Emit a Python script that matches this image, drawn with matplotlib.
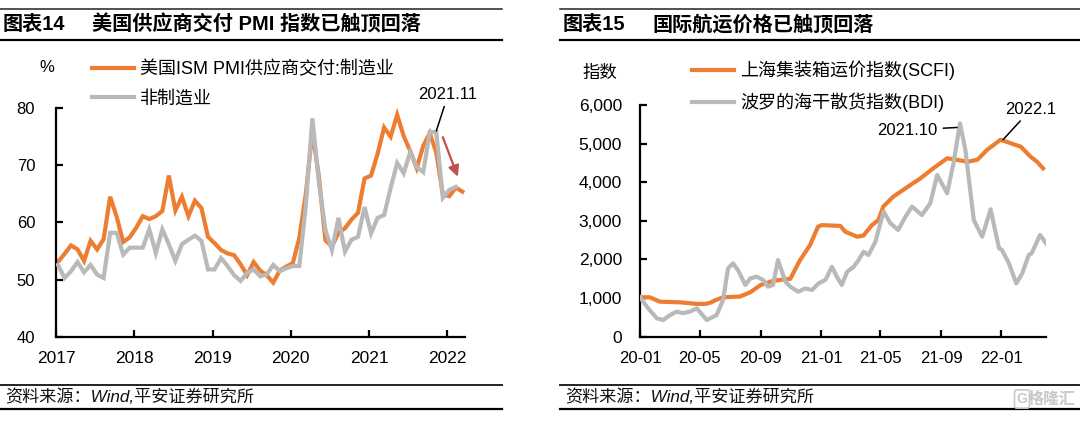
import matplotlib
matplotlib.use('Agg')
import matplotlib.pyplot as plt
import matplotlib.dates as mdates
from matplotlib.lines import Line2D
from matplotlib.ticker import FuncFormatter, FixedLocator, MultipleLocator
import numpy as np
import datetime as dt

plt.rcParams['font.family'] = ['Liberation Sans', 'Noto Sans CJK SC']
plt.rcParams['axes.unicode_minus'] = False

W, H = 1080, 423
ORANGE = '#ED7D31'
GRAY = '#B9B9B9'

# ---------------- left chart data (monthly, 2017-01 .. 2022-03) ----------------
year_labels = ['2017', '2018', '2019', '2020', '2021', '2022']
ism_mfg = [53.1, 54.5, 56.0, 55.3, 53.3, 56.8, 55.3, 57.1, 64.5, 61.0, 56.6, 57.4,
           59.1, 61.1, 60.6, 61.1, 62.0, 68.2, 62.1, 64.5, 61.1, 63.8, 62.5, 57.5,
           56.4, 55.2, 54.6, 54.3, 52.7, 50.8, 53.1, 51.6, 50.8, 49.5, 51.6, 52.3,
           52.9, 57.3, 65.0, 76.0, 68.0, 56.9, 55.8, 58.2, 59.0, 60.5, 61.7, 67.7,
           68.2, 72.0, 76.6, 75.0, 78.8, 75.1, 72.5, 69.5, 73.4, 75.6, 72.2, 64.9,
           64.6, 66.1, 65.4]
ism_nonmfg = [52.6, 50.3, 51.5, 53.1, 51.3, 52.6, 50.9, 50.3, 58.2, 58.2, 54.4, 55.6,
              55.6, 55.6, 58.8, 54.7, 58.8, 56.2, 53.3, 56.2, 57.0, 57.7, 56.8, 51.8,
              51.8, 53.8, 52.4, 50.8, 49.8, 51.2, 51.8, 50.6, 50.9, 52.6, 51.5, 52.0,
              52.4, 52.4, 63.0, 78.2, 67.0, 58.7, 55.2, 60.8, 54.9, 57.0, 57.5, 62.7,
              58.1, 60.8, 61.3, 66.0, 70.4, 68.6, 72.3, 69.7, 68.8, 75.8, 75.8, 64.3,
              65.7, 66.2]

# ---------------- right chart data ----------------
scfi_dates = ['2020-01-01', '2020-01-21', '2020-02-10', '2020-03-22', '2020-04-25', '2020-05-12',
              '2020-05-22', '2020-06-04', '2020-06-17', '2020-07-21', '2020-08-11', '2020-09-01',
              '2020-09-27', '2020-10-31', '2020-11-10', '2020-11-20', '2020-12-10', '2020-12-26',
              '2021-01-03', '2021-01-20', '2021-02-09', '2021-02-19', '2021-03-15', '2021-03-28',
              '2021-04-14', '2021-04-27', '2021-05-07', '2021-05-27', '2021-06-11', '2021-07-01',
              '2021-07-21', '2021-08-16', '2021-09-13', '2021-10-03', '2021-10-24', '2021-11-13',
              '2021-12-03', '2021-12-30', '2022-01-13', '2022-02-09', '2022-03-01', '2022-03-14',
              '2022-03-26']
scfi_vals = [1020, 1020, 907, 890, 850, 850, 880, 960, 1020, 1040, 1150, 1340, 1450, 1500,
             1750, 1990, 2375, 2850, 2890, 2880, 2870, 2720, 2590, 2620, 2890, 3020, 3370,
             3625, 3755, 3930, 4100, 4360, 4620, 4580, 4530, 4580, 4840, 5100, 5040, 4920,
             4660, 4530, 4360]
bdi_dates = ['2020-01-01', '2020-01-17', '2020-02-04', '2020-02-17', '2020-03-02', '2020-03-15',
             '2020-03-28', '2020-04-11', '2020-04-25', '2020-05-15', '2020-06-04', '2020-06-17',
             '2020-06-27', '2020-07-07', '2020-07-17', '2020-08-01', '2020-08-11', '2020-08-24',
             '2020-09-06', '2020-09-16', '2020-09-26', '2020-10-06', '2020-10-21', '2020-10-31',
             '2020-11-16', '2020-11-30', '2020-12-14', '2020-12-27', '2021-01-10', '2021-01-23',
             '2021-02-02', '2021-02-12', '2021-02-23', '2021-03-08', '2021-03-18', '2021-03-28',
             '2021-04-07', '2021-04-21', '2021-05-01', '2021-05-08', '2021-05-21', '2021-06-06',
             '2021-06-21', '2021-07-04', '2021-07-24', '2021-08-10', '2021-08-24', '2021-09-13',
             '2021-09-26', '2021-10-09', '2021-10-20', '2021-11-06', '2021-11-23', '2021-12-10',
             '2021-12-27', '2022-01-02', '2022-01-16', '2022-01-31', '2022-02-12', '2022-02-25',
             '2022-03-03', '2022-03-20', '2022-04-01']
bdi_vals = [1020, 743, 476, 432, 562, 648, 611, 650, 735, 432, 562, 950, 1770, 1900, 1727,
            1340, 1510, 1555, 1470, 1295, 1340, 1985, 1425, 1295, 1165, 1250, 1210, 1380,
            1470, 1810, 1555, 1340, 1683, 1810, 1985, 2200, 2115, 2460, 2940, 3240, 2940,
            2765, 3110, 3370, 3150, 3455, 4190, 3715, 4490, 5525, 4835, 3020, 2590, 3300,
            2290, 2245, 1900, 1380, 1640, 2115, 2160, 2635, 2420]
right_ticks = ['2020-01-01', '2020-05-01', '2020-09-01', '2021-01-01',
               '2021-05-01', '2021-09-01', '2022-01-01']


def d(s):
    return dt.datetime.strptime(s, '%Y-%m-%d')


def fx(px):
    return px / W


def fy(py):
    return 1 - py / H


fig = plt.figure(figsize=(W / 100, H / 100), dpi=100)
fig.patch.set_facecolor('white')

# ---------------- header / footer rules and titles ----------------
for x0, x1 in [(0, 502), (560, 1080)]:
    fig.add_artist(Line2D([fx(x0), fx(x1)], [fy(9), fy(9)], color='#222222', lw=1.1))
    fig.add_artist(Line2D([fx(x0), fx(x1)], [fy(40), fy(40)], color='black', lw=1.6))
    fig.add_artist(Line2D([fx(x0), fx(x1)], [fy(385), fy(385)], color='#222222', lw=1.4))
    fig.add_artist(Line2D([fx(x0), fx(x1)], [fy(409), fy(409)], color='black', lw=1.6))

TS = 14.5
fig.text(fx(3), fy(24.5), '图表14', fontsize=TS, fontweight='bold', va='center', ha='left')
fig.text(fx(92), fy(24.5), '美国供应商交付 PMI 指数已触顶回落', fontsize=TS,
         fontweight='bold', va='center', ha='left')
fig.text(fx(563), fy(24.5), '图表15', fontsize=TS, fontweight='bold', va='center', ha='left')
fig.text(fx(652), fy(24.5), '国际航运价格已触顶回落', fontsize=TS, fontweight='bold',
         va='center', ha='left')

for x0 in [5, 565]:
    fig.text(fx(x0), fy(397), '资料来源：Wind,平安证券研究所', fontsize=12.3, style='italic',
             va='center', ha='left', color='#111111')

# watermark
fig.text(fx(1022), fy(399), 'G', fontsize=10, color='#C8C8C8', fontweight='bold',
         ha='center', va='center',
         bbox=dict(boxstyle='round,pad=0.15', fc='white', ec='#C8C8C8', lw=1.2))
fig.text(fx(1052), fy(399), '格隆汇', fontsize=11.5, color='#C8C8C8', fontweight='bold',
         ha='center', va='center')


def style_axes(ax):
    for s in ['top', 'right']:
        ax.spines[s].set_visible(False)
    for s in ['left', 'bottom']:
        ax.spines[s].set_linewidth(1.6)
        ax.spines[s].set_color('black')
    ax.set_facecolor('none')


# ---------------- left chart ----------------
ax1 = fig.add_axes([fx(56), fy(337), fx(465) - fx(56), fy(108) - fy(337)])
style_axes(ax1)
xl = np.arange(len(ism_mfg)) + 0.3
xl2 = np.arange(len(ism_nonmfg)) + 0.3
ax1.plot(xl, ism_mfg, color=ORANGE, lw=3.0, solid_joinstyle='miter', label='美国ISM PMI供应商交付:制造业', zorder=2)
ax1.plot(xl2, ism_nonmfg, color=GRAY, lw=3.0, solid_joinstyle='miter', label='非制造业', zorder=3)
ax1.set_xlim(0, 62.7)
ax1.set_ylim(40, 80)
ax1.xaxis.set_major_locator(FixedLocator([12 * i for i in range(len(year_labels))]))
ax1.set_xticklabels(year_labels)
ax1.yaxis.set_major_locator(MultipleLocator(10))
ax1.tick_params(axis='y', direction='in', length=5, width=1.6, labelsize=12, pad=15)
ax1.tick_params(axis='x', direction='in', length=5, width=1.6, labelsize=12.5, pad=10)

ax1.annotate('2021.11', xy=(58.3, 76.0), xytext=(60.1, 82.3), fontsize=12,
             ha='center', va='center', annotation_clip=False,
             arrowprops=dict(arrowstyle='-', color='black', lw=1.1, shrinkA=1, shrinkB=0))
ax1.annotate('', xy=(61.6, 68.0), xytext=(59.3, 74.9), annotation_clip=False,
             arrowprops=dict(arrowstyle='-|>', color='#C0504D', lw=1.6, mutation_scale=16,
                             shrinkA=0, shrinkB=0))

fig.text(fx(47), fy(68), '%', fontsize=12, ha='center', va='center')
ax1.legend(loc='upper left', bbox_to_anchor=(fx(92), fy(60.5)), bbox_transform=fig.transFigure,
           frameon=False, fontsize=13, handlelength=2.35, handletextpad=0.3,
           labelspacing=0.68, borderpad=0, borderaxespad=0)

# ---------------- right chart ----------------
ax2 = fig.add_axes([fx(640), fy(336.7), fx(1046) - fx(640), fy(105) - fy(336.7)])
style_axes(ax2)
ax2.plot([d(s) for s in scfi_dates], scfi_vals, color=ORANGE, lw=3.0,
         label='上海集装箱运价指数(SCFI)', zorder=2)
ax2.plot([d(s) for s in bdi_dates], bdi_vals, color=GRAY, lw=3.0,
         label='波罗的海干散货指数(BDI)', zorder=3)
ax2.set_xlim(d('2020-01-01'), d('2022-04-01'))
ax2.set_ylim(0, 6000)
ax2.xaxis.set_major_locator(FixedLocator([mdates.date2num(d(s)) for s in right_ticks]))
ax2.xaxis.set_major_formatter(mdates.DateFormatter('%y-%m'))
ax2.yaxis.set_major_locator(MultipleLocator(1000))
ax2.yaxis.set_major_formatter(FuncFormatter(lambda v, p: f'{int(v):,}'))
ax2.tick_params(axis='y', direction='in', length=5, width=1.6, labelsize=12.5, pad=13)
ax2.tick_params(axis='x', direction='in', length=5, width=1.6, labelsize=12, pad=10)

ax2.annotate('2021.10', xy=(d('2021-10-06'), 5420), xytext=(d('2021-06-25'), 5350),
             fontsize=12, ha='center', va='center', annotation_clip=False,
             arrowprops=dict(arrowstyle='-', color='black', lw=1.1, shrinkA=2, shrinkB=1))
ax2.annotate('2022.1', xy=(d('2022-01-04'), 5100), xytext=(d('2022-03-01'), 5880),
             fontsize=12, ha='center', va='center', annotation_clip=False,
             arrowprops=dict(arrowstyle='-', color='black', lw=1.1, shrinkA=1, shrinkB=0))

fig.text(fx(600), fy(73), '指数', fontsize=12.5, ha='center', va='center')
ax2.legend(loc='upper left', bbox_to_anchor=(fx(692), fy(60.5)), bbox_transform=fig.transFigure,
           frameon=False, fontsize=13, handlelength=2.35, handletextpad=0.3,
           labelspacing=0.68, borderpad=0, borderaxespad=0)

fig.savefig('out.png', dpi=100, facecolor='white')
